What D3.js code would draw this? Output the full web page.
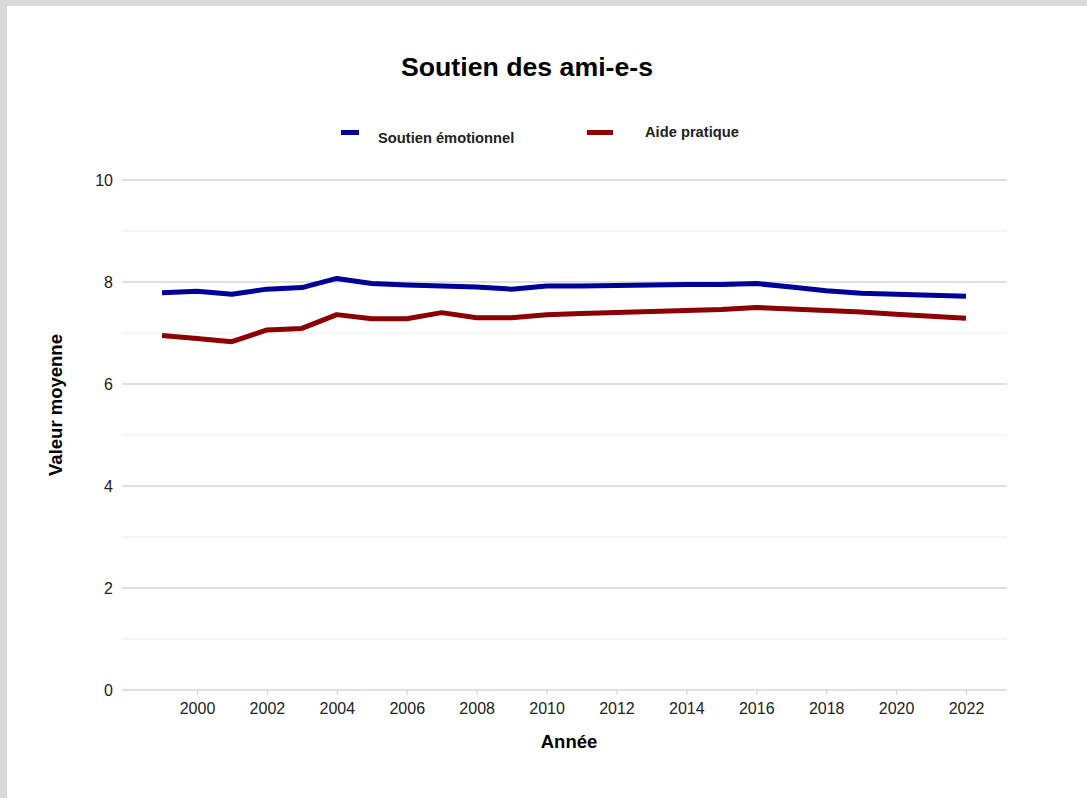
<!DOCTYPE html>
<html><head><meta charset="utf-8">
<script src="https://cdn.jsdelivr.net/npm/d3@7"></script>
<style>
html,body{margin:0;padding:0;background:#d9d9d9;}
svg{display:block;}
text{font-family:"Liberation Sans",Arial,sans-serif;}
</style></head>
<body>
<svg id="c" width="1087" height="798"></svg>
<script>
const years = [1999,2000,2001,2002,2003,2004,2005,2006,2007,2008,2009,2010,2011,2012,2013,2014,2015,2016,2017,2018,2019,2020,2021,2022];
const soutienEmotionnel = [7.79,7.82,7.76,7.86,7.89,8.07,7.97,7.94,7.92,7.90,7.86,7.92,7.92,7.93,7.94,7.95,7.95,7.97,7.90,7.83,7.78,7.76,7.74,7.72];
const aidePratique = [6.95,6.89,6.83,7.06,7.09,7.36,7.28,7.28,7.40,7.30,7.30,7.36,7.38,7.40,7.42,7.44,7.46,7.50,7.47,7.44,7.41,7.37,7.33,7.29];
const xTicks = [2000,2002,2004,2006,2008,2010,2012,2014,2016,2018,2020,2022];
const yMajor = [0,2,4,6,8,10];
const yMinor = [1,3,5,7,9];
const seriesNames = ["Soutien émotionnel","Aide pratique"];
const seriesColors = ["#000099","#8b0000"];

const svg = d3.select("#c");
svg.append("rect").attr("x",7).attr("y",6).attr("width",1080).attr("height",792).attr("fill","#fff");

const x = d3.scaleLinear().domain([2000,2022]).range([197,966]);
const y = d3.scaleLinear().domain([0,10]).range([690,180]);
const gx0 = 122, gx1 = 1007;

svg.append("g").selectAll("line").data(yMinor).join("line")
  .attr("x1",gx0).attr("x2",gx1).attr("y1",d=>y(d)).attr("y2",d=>y(d))
  .attr("stroke","#ebebeb").attr("stroke-width",1);
svg.append("g").selectAll("line").data(yMajor).join("line")
  .attr("x1",gx0).attr("x2",gx1).attr("y1",d=>y(d)).attr("y2",d=>y(d))
  .attr("stroke","#d6d6d6").attr("stroke-width",1.3);

const yAxis = d3.axisLeft(y).tickValues(yMajor).tickSize(0).tickPadding(0).tickFormat(d3.format("d"));
const gy = svg.append("g").attr("transform","translate(113,0)").call(yAxis);
gy.select(".domain").remove();
gy.selectAll("text").attr("font-size",16).attr("fill","#222").attr("font-family","Liberation Sans, Arial, sans-serif");

const xAxis = d3.axisBottom(x).tickValues(xTicks).tickSize(5).tickPadding(8).tickFormat(d3.format("d"));
const gxa = svg.append("g").attr("transform","translate(0,690)").call(xAxis);
gxa.select(".domain").remove();
gxa.selectAll("line").attr("stroke","#d6d6d6").attr("stroke-width",1.3);
gxa.selectAll("text").attr("font-size",16).attr("fill","#222").attr("font-family","Liberation Sans, Arial, sans-serif");

const line = d3.line().x((d,i)=>x(years[i])).y(d=>y(d));
[soutienEmotionnel, aidePratique].forEach((s,k)=>{
  svg.append("path").datum(s).attr("d",line).attr("fill","none")
    .attr("stroke",seriesColors[k]).attr("stroke-width",5).attr("stroke-linejoin","round").attr("stroke-linecap","butt");
});

svg.append("text").attr("x",527).attr("y",76).attr("text-anchor","middle")
  .attr("font-size",26.7).attr("font-weight","bold").attr("fill","#000").text("Soutien des ami-e-s");

const leg = [{sx:341,sw:18,tx:378,ty:143},{sx:587,sw:26,tx:645,ty:137}];
leg.forEach((l,k)=>{
  svg.append("rect").attr("x",l.sx).attr("y",130).attr("width",l.sw).attr("height",5).attr("fill",seriesColors[k]);
  svg.append("text").attr("x",l.tx).attr("y",l.ty).attr("font-size",14.7).attr("font-weight","bold").attr("fill","#222").text(seriesNames[k]);
});

svg.append("text").attr("x",569).attr("y",748).attr("text-anchor","middle")
  .attr("font-size",18.5).attr("font-weight","bold").attr("fill","#000").text("Année");
svg.append("text").attr("transform","translate(62,405) rotate(-90)").attr("text-anchor","middle")
  .attr("font-size",18.5).attr("font-weight","bold").attr("fill","#000").text("Valeur moyenne");
</script>
</body></html>
